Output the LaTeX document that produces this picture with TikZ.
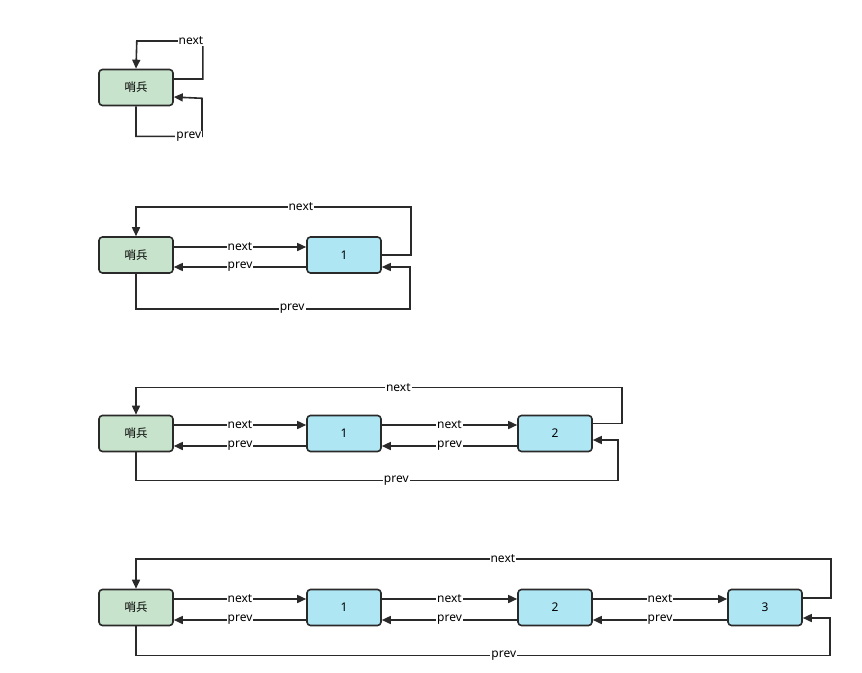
\documentclass[tikz,border=0pt]{standalone}
\usepackage{fontspec}
\setmainfont{Noto Sans}
\newfontfamily\cjk{Noto Sans CJK SC}
\usetikzlibrary{arrows.meta,calc}
\definecolor{sentfill}{HTML}{C8E3CB}
\definecolor{itemfill}{HTML}{AEE6F4}
\definecolor{linec}{HTML}{2A2A2A}
\tikzset{
  box/.style={draw=linec,line width=1.6pt,rounded corners=3.5pt,minimum width=74pt,minimum height=36pt,inner sep=0pt,font=\fontsize{12}{14}\selectfont},
  sent/.style={box,fill=sentfill,font=\cjk\fontsize{11.5}{14}\selectfont},
  item/.style={box,fill=itemfill},
  arr/.style={draw=linec,line width=1.6pt,-{Triangle[length=9pt,width=8pt]}},
  lbl/.style={fill=white,inner sep=1pt,text=black,font=\fontsize{12}{14}\selectfont}
}
\begin{document}
\begin{tikzpicture}[x=1pt,y=-1pt]
\useasboundingbox[fill=white] (0,0) rectangle (862,672);
% diagram 1
\node[sent] (s1) at (136,87.5) {哨兵};
\draw[arr] ([yshift=8.5pt]s1.east) -- ++(29,0) -- ++(0,-38) -- node[lbl,pos=0.18]{next} ++(-66,0) -- (s1.north);
\draw[arr] (s1.south) -- ++(0,30) -- node[lbl,pos=0.8]{prev} ++(66,0) -- ++(0,-38) -- ([yshift=-9.5pt]s1.east);
% diagram 2
\node[sent] (s2) at (136,255) {哨兵};
\node[item] (n21) at (344,255) {1};
\draw[arr] ([yshift=8pt]s2.east) -- node[lbl]{next} ([yshift=8pt]n21.west);
\draw[arr] ([yshift=-12pt]n21.west) -- node[lbl]{prev} ([yshift=-12pt]s2.east);
\draw[arr] (n21.east) -- ++(29,0) -- ++(0,-48) -| node[lbl,pos=0.2]{next} (s2.north);
\draw[arr] (s2.south) -- ++(0,35) -- node[lbl,pos=0.57]{prev} ++(274,0) |- ([yshift=-12pt]n21.east);
% diagram 3
\node[sent] (s3) at (136,433.5) {哨兵};
\node[item] (n31) at (344,433.5) {1};
\node[item] (n32) at (555,433.5) {2};
\draw[arr] ([yshift=8.5pt]s3.east) -- node[lbl]{next} ([yshift=8.5pt]n31.west);
\draw[arr] ([yshift=-12.5pt]n31.west) -- node[lbl]{prev} ([yshift=-12.5pt]s3.east);
\draw[arr] ([yshift=8.5pt]n31.east) -- node[lbl]{next} ([yshift=8.5pt]n32.west);
\draw[arr] ([yshift=-12.5pt]n32.west) -- node[lbl]{prev} ([yshift=-12.5pt]n31.east);
\draw[arr] ([yshift=10pt]n32.east) -- ++(29,0) -- ++(0,-36) -| node[lbl,pos=0.23]{next} (s3.north);
\draw[arr] (s3.south) -- ++(0,28) -- node[lbl,pos=0.54]{prev} ++(482,0) |- ([yshift=-6.5pt]n32.east);
% diagram 4
\node[sent] (s4) at (136,607.5) {哨兵};
\node[item] (n41) at (344,607.5) {1};
\node[item] (n42) at (555,607.5) {2};
\node[item] (n43) at (765,607.5) {3};
\draw[arr] ([yshift=8.5pt]s4.east) -- node[lbl]{next} ([yshift=8.5pt]n41.west);
\draw[arr] ([yshift=-12.5pt]n41.west) -- node[lbl]{prev} ([yshift=-12.5pt]s4.east);
\draw[arr] ([yshift=8.5pt]n41.east) -- node[lbl]{next} ([yshift=8.5pt]n42.west);
\draw[arr] ([yshift=-12.5pt]n42.west) -- node[lbl]{prev} ([yshift=-12.5pt]n41.east);
\draw[arr] ([yshift=8.5pt]n42.east) -- node[lbl]{next} ([yshift=8.5pt]n43.west);
\draw[arr] ([yshift=-12.5pt]n43.west) -- node[lbl]{prev} ([yshift=-12.5pt]n42.east);
\draw[arr] ([yshift=9.5pt]n43.east) -- ++(28,0) -- ++(0,-39) -| node[lbl,pos=0.236]{next} (s4.north);
\draw[arr] (s4.south) -- ++(0,29) -- node[lbl,pos=0.53]{prev} ++(694,0) |- ([yshift=-10.5pt]n43.east);
\end{tikzpicture}
\end{document}
